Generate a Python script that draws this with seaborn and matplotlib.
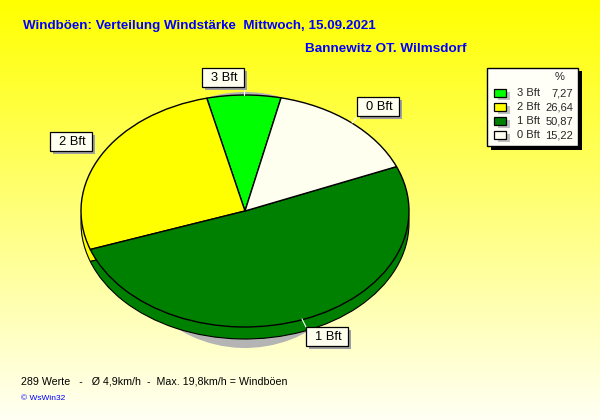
#!/usr/bin/env python3
# -*- coding: utf-8 -*-
"""Windboeen: Verteilung Windstaerke als Tortendiagramm"""

import numpy as np
import matplotlib
matplotlib.use('Agg')
import matplotlib.pyplot as plt
from matplotlib.colors import LinearSegmentedColormap
from matplotlib.patches import Rectangle
import seaborn as sns

# Daten
kategorien = ['3 Bft', '2 Bft', '1 Bft', '0 Bft']
anteile = [7.27, 26.64, 50.87, 15.22]
anteile_text = ['7,27', '26,64', '50,87', '15,22']
farben = ['#00ff00', '#ffff00', '#008000', '#fffff0']
seiten_farben = ['#00c000', '#ffff00', '#008000', '#d8d8c8']

titel = 'Windböen: Verteilung Windstärke  Mittwoch, 15.09.2021'
ort = 'Bannewitz OT. Wilmsdorf'
fusszeile = '289 Werte   -   Ø 4,9km/h  -  Max. 19,8km/h = Windböen'
copyright_text = '© WsWin32'

BREITE, HOEHE = 600, 420
START_WINKEL = 77.3


def pie_achse(fig, cx, cy, rx, ry, zorder):
    """Achse in Pixelkoordinaten, die den Einheitskreis zur Ellipse streckt"""
    ax = fig.add_axes([(cx - rx) / BREITE, 1 - (cy + ry) / HOEHE,
                       2 * rx / BREITE, 2 * ry / HOEHE], zorder=zorder)
    ax.patch.set_alpha(0)
    return ax


def torte(ax, colors, edge, lw=0.9):
    ax.pie(anteile, colors=colors, startangle=START_WINKEL, radius=1.0,
           counterclock=True,
           wedgeprops={'edgecolor': edge, 'linewidth': lw})
    ax.set_aspect('auto')
    ax.set_xlim(-1, 1)
    ax.set_ylim(-1, 1)
    ax.axis('off')


def beschriftung(ax, x, y, text, breite=42, hoehe=18.5):
    """Beschriftungskasten mit Schatten, x/y ist die linke obere Ecke"""
    ax.add_patch(Rectangle((x + 3, y + 3), breite, hoehe, fc='#a0a0a0', ec='none', zorder=5))
    ax.add_patch(Rectangle((x, y), breite, hoehe, fc='#fffff0', ec='black', lw=0.9, zorder=6))
    ax.text(x + breite / 2 + 1, y + hoehe / 2 + 0.5, text, ha='center', va='center',
            fontsize=9.3, color='black', zorder=7)


def main():
    sns.set_style('white')
    plt.rcParams['font.family'] = ['Liberation Sans', 'DejaVu Sans']
    fig = plt.figure(figsize=(BREITE / 100, HOEHE / 100), dpi=100)

    # Hintergrund: Verlauf von gelb nach fast weiss
    bg = fig.add_axes([0, 0, 1, 1], zorder=0)
    verlauf = LinearSegmentedColormap.from_list('verlauf', ['#ffff00', '#fffff4'])
    bg.imshow(np.linspace(0, 1, 256).reshape(-1, 1), cmap=verlauf, aspect='auto',
              extent=[0, BREITE, HOEHE, 0])
    bg.set_xlim(0, BREITE)
    bg.set_ylim(HOEHE, 0)
    bg.axis('off')

    # Schatten, Seitenwand, Oberseite
    schatten = pie_achse(fig, 245, 220, 128, 128, 1)
    torte(schatten, ['#b4b4b4'] * 4, '#b4b4b4', 0)
    seite = pie_achse(fig, 245, 223, 164, 116, 2)
    torte(seite, seiten_farben, 'black', 0.8)
    oben = pie_achse(fig, 245, 211, 164, 116, 3)
    torte(oben, farben, 'black', 1.0)

    # Texte und Kaesten in Pixelkoordinaten
    top = fig.add_axes([0, 0, 1, 1], zorder=4)
    top.set_xlim(0, BREITE)
    top.set_ylim(HOEHE, 0)
    top.axis('off')
    top.patch.set_alpha(0)

    top.text(23, 25.5, titel, color='#0000ff', fontsize=9.6, fontweight='bold', va='center')
    top.text(305, 49, ort, color='#0000ff', fontsize=9.7, fontweight='bold', va='center')
    top.text(21, 382, fusszeile, color='black', fontsize=7.7, va='center')
    top.text(21, 398.5, copyright_text, color='#0000ff', fontsize=6, va='center')

    # Fuehrungslinien
    for x0, y0, x1, y1 in [(244, 87, 244, 95), (302, 319, 306, 327), (357, 117, 352, 123)]:
        top.plot([x0, x1], [y0, y1], color='white', lw=0.8, zorder=4)

    beschriftung(top, 202, 68, '3 Bft')
    beschriftung(top, 357, 97, '0 Bft')
    beschriftung(top, 50, 132, '2 Bft')
    beschriftung(top, 306, 327, '1 Bft')

    # Legende
    top.add_patch(Rectangle((491, 71), 91, 79, fc='black', ec='none', zorder=5))
    top.add_patch(Rectangle((487, 68), 91, 78, fc='#fffff8', ec='black', lw=1, zorder=6))
    top.text(560, 77, '%', fontsize=8, ha='center', va='center', zorder=7)
    for i, (kat, wert, farbe) in enumerate(zip(kategorien, anteile_text, farben)):
        y = 93 + i * 14
        top.add_patch(Rectangle((498, y - 1), 12, 8, fc='#c0c0c0', ec='none', zorder=7))
        top.add_patch(Rectangle((494, y - 4), 12, 8, fc=farbe, ec='black', lw=0.9, zorder=8))
        top.text(517, y + 0.5, kat, fontsize=8, va='center', zorder=8)
        top.text(573, y + 0.5, wert, fontsize=8, ha='right', va='center', zorder=8)

    fig.savefig('out.png', dpi=100)


if __name__ == '__main__':
    main()
